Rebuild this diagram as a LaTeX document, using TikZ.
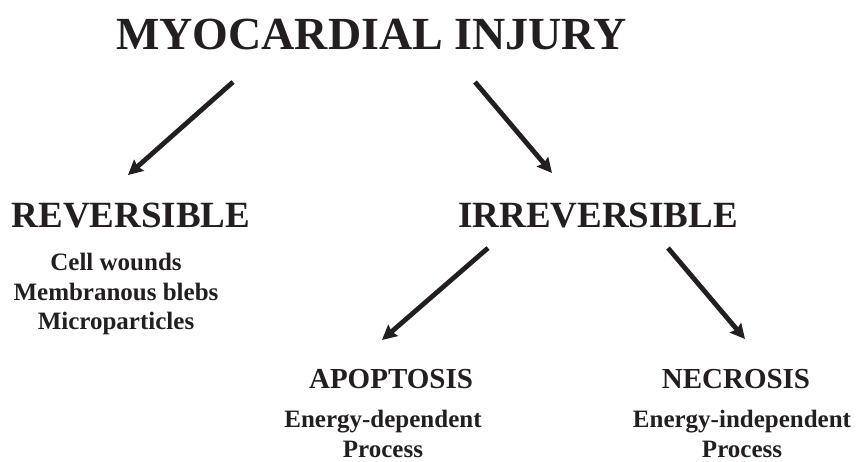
\documentclass[tikz,border=0pt]{standalone}
\usepackage{fontspec}
\setmainfont{Liberation Serif}[BoldFont={Liberation Serif Bold}]
\usetikzlibrary{arrows.meta, positioning}
\definecolor{ink}{HTML}{231F20}

\begin{document}
\begin{tikzpicture}[
    x=0.75pt, y=-0.75pt,
    heading/.style={text=ink, inner sep=0pt, anchor=base, font=\fontsize{34.5}{40}\selectfont\bfseries},
    branch/.style={text=ink, inner sep=0pt, anchor=base, font=\fontsize{27.75}{32}\selectfont\bfseries},
    outcome/.style={text=ink, inner sep=0pt, anchor=base, font=\fontsize{21.75}{26}\selectfont\bfseries},
    note/.style={text=ink, inner sep=0pt, anchor=north, align=center, text depth=0pt, font=\fontsize{18.75}{22.1}\selectfont\bfseries},
    dep/.style={-{Stealth[length=11pt, width=11pt, inset=1.5pt]}, line width=3.6pt, ink}
]
    \useasboundingbox (0,0) rectangle (856,461);

    \node[heading] (injury) at (371.5,49) {MYOCARDIAL INJURY};

    \node[branch] (reversible) at (131,227) {REVERSIBLE};
    \node[branch] (irreversible) at (598,227) {IRREVERSIBLE};
    \node[note] (revnote) at (116,253) {Cell wounds\\Membranous blebs\\Microparticles};

    \node[outcome] (apoptosis) at (391,388) {APOPTOSIS};
    \node[outcome] (necrosis) at (736,388) {NECROSIS};
    \node[note] (aponote) at (383,410) {Energy-dependent\\Process};
    \node[note] (necnote) at (742,410) {Energy-independent\\Process};

    % arrow ends
    \coordinate (injury-l) at (233,82);
    \coordinate (reversible-in) at (128,175);
    \coordinate (injury-r) at (475,82);
    \coordinate (irreversible-in) at (552,173);
    \coordinate (irreversible-l) at (488,248);
    \coordinate (apoptosis-in) at (382,340);
    \coordinate (irreversible-r) at (668,248);
    \coordinate (necrosis-in) at (745,339);

    \draw[dep] (injury-l) -- (reversible-in);
    \draw[dep] (injury-r) -- (irreversible-in);
    \draw[dep] (irreversible-l) -- (apoptosis-in);
    \draw[dep] (irreversible-r) -- (necrosis-in);
\end{tikzpicture}
\end{document}
